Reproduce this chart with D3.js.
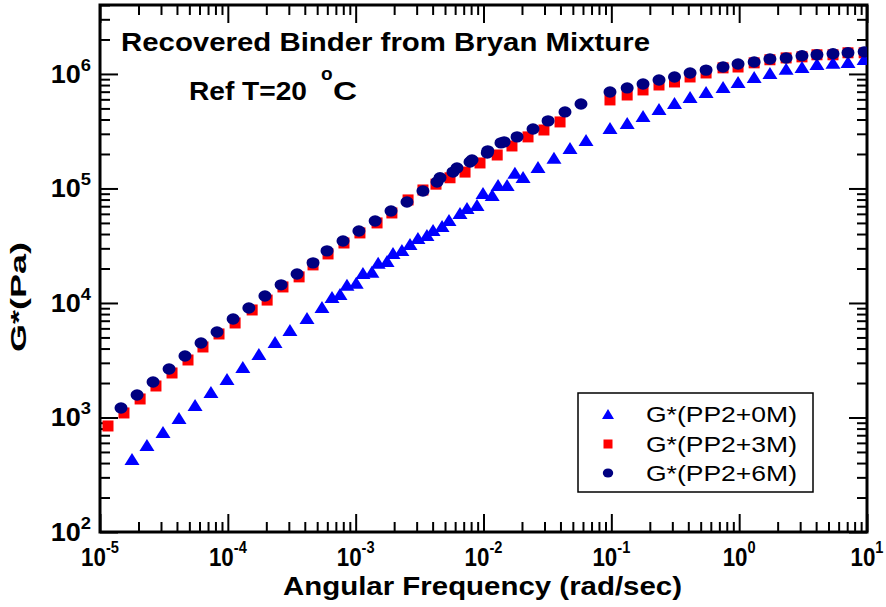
<!DOCTYPE html>
<html><head><meta charset="utf-8">
<script src="https://cdn.jsdelivr.net/npm/d3@7"></script>
<style>body{margin:0;background:#fff}</style>
</head><body><svg id="c" width="886" height="607"></svg>
<script>
// ---------- data ----------
const xDomain = [1e-5, 10];
const yDomain = [1e2, 4e6];
const xMajor = [1e-5, 1e-4, 1e-3, 1e-2, 1e-1, 1, 10];
const xExp = ["-5", "-4", "-3", "-2", "-1", "0", "1"];
const yMajor = [1e2, 1e3, 1e4, 1e5, 1e6];
const yExp = ["2", "3", "4", "5", "6"];
const seriesNames = ["G*(PP2+0M)", "G*(PP2+3M)", "G*(PP2+6M)"];
const titleText = "Recovered Binder from Bryan Mixture";
const xLabel = "Angular Frequency (rad/sec)";
const yLabel = "G*(Pa)";

// reference-temperature sweep frequencies (rad/s)
const freqHigh = [0.0976, 0.133, 0.177, 0.236, 0.312, 0.413, 0.551, 0.748, 0.98, 1.31, 1.74, 2.33, 3.10, 4.06, 5.42, 7.10, 9.5];

// G*(PP2+0M)
const freq0M = [1.78e-5, 2.33e-5, 3.11e-5, 4.15e-5, 5.54e-5, 7.38e-5, 9.85e-5, 1.31e-4, 1.75e-4, 2.34e-4, 3.06e-4, 4.16e-4, 5.45e-4, 6.53e-4, 7.54e-4, 8.55e-4, 1.01e-3, 1.14e-3, 1.34e-3, 1.50e-3, 1.76e-3, 1.96e-3, 2.30e-3, 2.66e-3, 3.07e-3, 3.61e-3, 4.03e-3, 4.74e-3, 5.37e-3, 6.55e-3, 7.43e-3, 8.90e-3, 9.91e-3, 1.17e-2, 1.30e-2, 1.53e-2, 1.76e-2, 2.04e-2, 2.67e-2, 3.56e-2, 4.75e-2, 6.34e-2].concat(freqHigh);
const g0M = [434, 575, 747, 990, 1286, 1670, 2170, 2760, 3585, 4565, 5810, 7400, 9230, 1.13e4, 1.20e4, 1.44e4, 1.50e4, 1.83e4, 1.87e4, 2.24e4, 2.33e4, 2.73e4, 2.90e4, 3.28e4, 3.70e4, 3.93e4, 4.34e4, 4.71e4, 5.31e4, 6.11e4, 6.76e4, 7.18e4, 9.14e4, 8.77e4, 1.07e5, 1.07e5, 1.37e5, 1.26e5, 1.54e5, 1.85e5, 2.26e5, 2.65e5,
  3.38e5, 3.73e5, 4.30e5, 4.95e5, 5.58e5, 6.30e5, 6.96e5, 7.70e5, 8.51e5, 9.41e5, 1.02e6, 1.11e6, 1.15e6, 1.22e6, 1.25e6, 1.27e6, 1.35e6];

// G*(PP2+3M)
const freq3M = [1.155e-5, 1.54e-5, 2.06e-5, 2.74e-5, 3.66e-5, 4.88e-5, 6.39e-5, 8.53e-5, 1.14e-4, 1.55e-4, 2.03e-4, 2.70e-4, 3.61e-4, 4.64e-4, 6.08e-4, 8.10e-4, 1.08e-3, 1.47e-3, 1.92e-3, 2.57e-3, 3.36e-3, 4.25e-3, 5.47e-3, 7.17e-3, 9.39e-3, 1.28e-2, 1.67e-2, 2.23e-2, 2.97e-2, 3.97e-2].concat(freqHigh);
const g3M = [843, 1095, 1451, 1884, 2447, 3178, 4128, 5362, 6689, 8688, 1.06e4, 1.38e4, 1.69e4, 2.15e4, 2.68e4, 3.34e4, 4.09e4, 5.00e4, 6.11e4, 7.94e4, 9.70e4, 1.09e5, 1.24e5, 1.39e5, 1.67e5, 1.96e5, 2.35e5, 2.82e5, 3.24e5, 3.81e5,
  5.93e5, 6.55e5, 7.25e5, 8.01e5, 8.51e5, 9.41e5, 1.02e6, 1.13e6, 1.15e6, 1.25e6, 1.33e6, 1.38e6, 1.41e6, 1.47e6, 1.47e6, 1.53e6, 1.53e6];

// G*(PP2+6M)
const freq6M = [1.46e-5, 1.95e-5, 2.60e-5, 3.47e-5, 4.62e-5, 6.17e-5, 8.23e-5, 1.10e-4, 1.46e-4, 1.95e-4, 2.61e-4, 3.48e-4, 4.64e-4, 5.97e-4, 7.96e-4, 1.06e-3, 1.42e-3, 1.89e-3, 2.52e-3, 3.36e-3, 4.33e-3, 4.57e-3, 5.77e-3, 6.20e-3, 7.84e-3, 8.13e-3, 1.07e-2, 1.08e-2, 1.37e-2, 1.45e-2, 1.83e-2, 2.44e-2, 3.20e-2, 4.34e-2, 5.79e-2].concat(freqHigh);
const g6M = [1211, 1573, 2042, 2652, 3444, 4474, 5580, 7251, 9045, 1.15e4, 1.44e4, 1.79e4, 2.24e4, 2.85e4, 3.48e4, 4.25e4, 5.20e4, 6.36e4, 7.62e4, 9.51e4, 1.14e5, 1.24e5, 1.39e5, 1.51e5, 1.70e5, 1.77e5, 2.04e5, 2.13e5, 2.50e5, 2.55e5, 2.82e5, 3.31e5, 3.89e5, 4.66e5, 5.47e5,
  6.96e5, 7.55e5, 8.18e5, 8.86e5, 9.41e5, 1.02e6, 1.08e6, 1.15e6, 1.22e6, 1.27e6, 1.35e6, 1.38e6, 1.44e6, 1.47e6, 1.50e6, 1.53e6, 1.56e6];

// ---------- chart ----------
const L = 100, R = 867, T = 5, B = 532;
const svg = d3.select("#c");
const x = d3.scaleLog().domain(xDomain).range([L, R]);
const y = d3.scaleLog().domain(yDomain).range([B, T]);
const FONT = "'Liberation Sans', Arial, Helvetica, sans-serif";

function minorsOf(dom) {
  const out = [];
  const k0 = Math.floor(Math.log10(dom[0])), k1 = Math.ceil(Math.log10(dom[1]));
  for (let k = k0; k <= k1; k++) for (let m = 2; m <= 9; m++) {
    const v = +(m * Math.pow(10, k)).toPrecision(6);
    if (v > dom[0] && v < dom[1] * 1.0001) out.push(v);
  }
  return out;
}
const xMinor = minorsOf(xDomain), yMinor = minorsOf(yDomain);

svg.append("defs").append("clipPath").attr("id", "plot")
  .append("rect").attr("x", L).attr("y", T).attr("width", R - L).attr("height", B - T);

const MAJ = 18, MIN = 10;
function drawAxis(axisFn, scale, vals, size, tx, ty) {
  const g = svg.append("g").attr("transform", `translate(${tx},${ty})`)
    .call(axisFn(scale).tickValues(vals).tickSize(size).tickFormat(""));
  g.select(".domain").remove();
  g.selectAll(".tick line").attr("stroke", "#000").attr("stroke-width", 2);
}
drawAxis(d3.axisBottom, x, xMajor, -MAJ, 0, B);
drawAxis(d3.axisBottom, x, xMinor, -MIN, 0, B);
drawAxis(d3.axisTop, x, xMajor, -MAJ, 0, T);
drawAxis(d3.axisTop, x, xMinor, -MIN, 0, T);
drawAxis(d3.axisLeft, y, yMajor, -MAJ, L, 0);
drawAxis(d3.axisLeft, y, yMinor, -MIN, L, 0);
drawAxis(d3.axisRight, y, yMajor, -MAJ, R, 0);
drawAxis(d3.axisRight, y, yMinor, -MIN, R, 0);

// frame
svg.append("rect").attr("x", L).attr("y", T).attr("width", R - L).attr("height", B - T)
  .attr("fill", "none").attr("stroke", "#000").attr("stroke-width", 3);

// tick labels
function powLabel(px, py, exp, fs, efs, dy, sx, anchor) {
  const t = svg.append("g").attr("transform", `translate(${px},${py}) scale(${sx},1)`)
    .append("text").attr("text-anchor", anchor).attr("font-family", FONT)
    .attr("font-weight", "bold").attr("font-size", fs).attr("fill", "#000");
  t.append("tspan").text("10");
  t.append("tspan").attr("font-size", efs).attr("dy", dy).text(exp);
}
xMajor.forEach((v, i) => powLabel(x(v), 566, xExp[i], 26, 17, -13, 0.86, "middle"));
yMajor.forEach((v, i) => powLabel(91, y(v) + 9, yExp[i], 25, 17, -12, 1.08, "end"));

// axis titles
svg.append("text").attr("x", (283 + 682) / 2).attr("y", 595).attr("text-anchor", "middle")
  .attr("font-family", FONT).attr("font-weight", "bold").attr("font-size", 25)
  .attr("textLength", 399).attr("lengthAdjust", "spacingAndGlyphs").text(xLabel);
svg.append("text").attr("transform", "translate(26,297) rotate(-90)").attr("text-anchor", "middle")
  .attr("font-family", FONT).attr("font-weight", "bold").attr("font-size", 22)
  .attr("textLength", 110).attr("lengthAdjust", "spacingAndGlyphs").text(yLabel);

// annotations
svg.append("text").attr("x", 121).attr("y", 51).attr("font-family", FONT).attr("font-weight", "bold")
  .attr("font-size", 25).attr("textLength", 529).attr("lengthAdjust", "spacingAndGlyphs").text(titleText);
svg.append("text").attr("x", 189).attr("y", 100).attr("font-family", FONT).attr("font-weight", "bold")
  .attr("font-size", 25).attr("textLength", 118).attr("lengthAdjust", "spacingAndGlyphs").text("Ref T=20");
svg.append("text").attr("x", 321).attr("y", 80).attr("font-family", FONT).attr("font-weight", "bold")
  .attr("font-size", 19).text("o");
svg.append("text").attr("x", 333).attr("y", 100).attr("font-family", FONT).attr("font-weight", "bold")
  .attr("font-size", 25).attr("textLength", 24).attr("lengthAdjust", "spacingAndGlyphs").text("C");

// markers
function tri(cx, cy, w, h) { return `M${cx - w / 2},${cy + h / 2}L${cx + w / 2},${cy + h / 2}L${cx},${cy - h / 2}Z`; }
const plot = svg.append("g").attr("clip-path", "url(#plot)");
const d3M = freq3M.map((f, i) => [f, g3M[i]]);
const d0M = freq0M.map((f, i) => [f, g0M[i]]);
const d6M = freq6M.map((f, i) => [f, g6M[i]]);
plot.selectAll("rect.s3").data(d3M).join("rect").attr("class", "s3")
  .attr("x", d => x(d[0]) - 5.5).attr("y", d => y(d[1]) - 5.5).attr("width", 11).attr("height", 11).attr("fill", "#ff0000");
plot.selectAll("path.s0").data(d0M).join("path").attr("class", "s0")
  .attr("d", d => tri(x(d[0]), y(d[1]), 15, 12)).attr("fill", "#0000ff");
plot.selectAll("ellipse.s6").data(d6M).join("ellipse").attr("class", "s6")
  .attr("cx", d => x(d[0])).attr("cy", d => y(d[1])).attr("rx", 6.5).attr("ry", 5.7).attr("fill", "#000080");

// legend
const lg = svg.append("g");
lg.append("rect").attr("x", 578).attr("y", 393).attr("width", 235).attr("height", 99)
  .attr("fill", "#fff").attr("stroke", "#000").attr("stroke-width", 1.5);
const rows = [414, 444, 473];
lg.append("path").attr("d", tri(608, rows[0], 12, 10)).attr("fill", "#0000ff");
lg.append("rect").attr("x", 603.5).attr("y", rows[1] - 4.5).attr("width", 9).attr("height", 9).attr("fill", "#ff0000");
lg.append("ellipse").attr("cx", 608).attr("cy", rows[2]).attr("rx", 5.2).attr("ry", 4.6).attr("fill", "#000080");
seriesNames.forEach((n, i) => lg.append("text").attr("x", 646).attr("y", rows[i] + 8)
  .attr("font-family", FONT).attr("font-size", 22).attr("textLength", 151)
  .attr("lengthAdjust", "spacingAndGlyphs").text(n));
</script></body></html>
